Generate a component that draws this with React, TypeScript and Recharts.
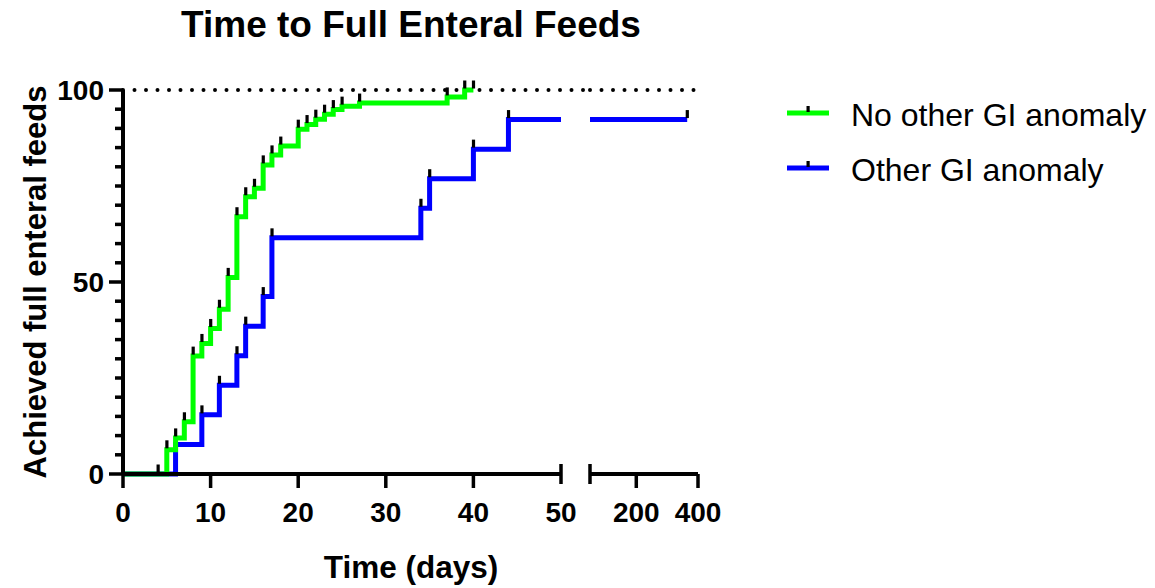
import React from 'react';
import {
  ComposedChart,
  Line,
  XAxis,
  YAxis,
  ReferenceLine,
  Legend
} from 'recharts';

// Kaplan-Meier style curves
const greenDays = [0, 4, 5, 6, 7, 8, 9, 10, 11, 12, 13, 14, 15, 16, 17, 18, 20, 21, 22, 23, 24, 25, 27, 37, 39, 40];
const greenPct = [0, 0, 6.3, 9.4, 13.6, 30.7, 34, 37.9, 42.9, 51.2, 67, 72.2, 74.4, 80.5, 83.1, 85.4, 89.8, 91, 92.4, 93.7, 94.9, 95.8, 96.6, 98.2, 100, 100];
const greenCensorDays = [4, 5, 6, 7, 8, 9, 10, 11, 12, 13, 14, 15, 16, 17, 18, 20, 21, 22, 23, 24, 25, 27, 37, 39, 40];

const blueDays = [0, 6, 9, 11, 13, 14, 16, 17, 34, 35, 40, 44, 50];
const bluePct = [0, 7.7, 15.4, 23.1, 30.8, 38.5, 46.2, 61.5, 69.2, 76.9, 84.6, 92.3, 92.3];
const blueLateDays = [50, 365];
const blueLatePct = [92.3, 92.3];
const blueCensorDays = [9, 11, 13, 14, 16, 17, 34, 35, 40, 44, 365];

const yTicks = [0, 5, 10, 15, 20, 25, 30, 35, 40, 45, 50, 55, 60, 65, 70, 75, 80, 85, 90, 95, 100];
const yLabelTicks = [0, 50, 100];
const xTicksEarly = [0, 10, 20, 30, 40, 50];
const xTicksLate = [50, 200, 400];

const GREEN = '#00ff00';
const BLUE = '#0000ff';
const FONT = "'Liberation Sans', Arial, Helvetica, sans-serif";
const TICK_FONT = 28;
const LINE_W = 5;

const seriesNames = ['No other GI anomaly', 'Other GI anomaly'];
const seriesColors = [GREEN, BLUE];

const build = (days: number[], pct: number[], censor: number[]) =>
  days.map((d, i) => ({ day: d, value: pct[i], censor: censor.includes(d) }));

const greenData = build(greenDays, greenPct, greenCensorDays);
const blueData = build(blueDays, bluePct, blueCensorDays);
const blueLateData = build(blueLateDays, blueLatePct, blueCensorDays);

const censorDot = (props: any) => {
  const { cx, cy, payload, index } = props;
  if (!payload || !payload.censor) return <g key={`n-${index}`} />;
  return <rect key={`c-${index}`} x={cx - 1.5} y={cy - 9.5} width={3.2} height={8} fill="#000" />;
};

const YTick = (props: any) => {
  const { x, y, payload } = props;
  const v = payload.value;
  const major = yLabelTicks.includes(v);
  return (
    <g>
      <line x1={x - (major ? 14 : 8)} x2={x} y1={y} y2={y} stroke="#000" strokeWidth={3.5} />
      {major && (
        <text x={x - 19} y={y + 10} textAnchor="end" fontSize={TICK_FONT} fontWeight="bold" fontFamily={FONT} fill="#000">
          {v}
        </text>
      )}
    </g>
  );
};

const makeXTick = (caps: number[], hideLabels: number[]) => (props: any) => {
  const { x, y, payload } = props;
  const v = payload.value;
  const cap = caps.includes(v);
  return (
    <g>
      {cap ? (
        <line x1={x} x2={x} y1={y - 10} y2={y + 10} stroke="#000" strokeWidth={3.5} />
      ) : (
        <line x1={x} x2={x} y1={y} y2={y + 14} stroke="#000" strokeWidth={3.5} />
      )}
      {!hideLabels.includes(v) && (
        <text x={x} y={y + 48} textAnchor="middle" fontSize={TICK_FONT} fontWeight="bold" fontFamily={FONT} fill="#000">
          {v}
        </text>
      )}
    </g>
  );
};

const renderLegend = () => (
  <div style={{ fontFamily: FONT, fontSize: 32, color: '#000' }}>
    {seriesNames.map((name, i) => (
      <div key={name} style={{ display: 'flex', alignItems: 'center', height: 55 }}>
        <svg width={44} height={20} style={{ display: 'block' }}>
          <line x1={1} x2={43} y1={7} y2={7} stroke={seriesColors[i]} strokeWidth={LINE_W} />
          <rect x={20.5} y={-1} width={3.2} height={7} fill="#000" />
        </svg>
        <span style={{ marginLeft: 21, whiteSpace: 'nowrap' }}>{name}</span>
      </div>
    ))}
  </div>
);

const axisLine = { stroke: '#000', strokeWidth: 4 };

export default function App() {
  return (
    <div style={{ position: 'absolute', left: 0, top: 0, width: 1155, height: 588, background: '#fff' }}>
      {/* first segment: 0-50 days, with y axis */}
      <div style={{ position: 'absolute', left: 0, top: 0 }}>
        <ComposedChart width={1155} height={588} margin={{ top: 90, right: 594, bottom: 54, left: 0 }}>
          <XAxis
            type="number"
            dataKey="day"
            domain={[0, 50]}
            ticks={xTicksEarly}
            interval={0}
            height={60}
            axisLine={axisLine}
            tickLine={false}
            tickSize={0}
            tickMargin={0}
            tick={makeXTick([50], [])}
          />
          <YAxis
            type="number"
            domain={[0, 100]}
            ticks={yTicks}
            interval={0}
            width={123}
            axisLine={axisLine}
            tickLine={false}
            tickSize={0}
            tickMargin={0}
            tick={<YTick />}
          />
          <ReferenceLine
            segment={[{ x: 0, y: 100 }, { x: 53.4, y: 100 }]}
            ifOverflow="visible"
            stroke="#000"
            strokeWidth={4}
            strokeLinecap="round"
            strokeDasharray="0 11.5"
          />
          <Line
            data={blueData}
            dataKey="value"
            type="stepAfter"
            stroke={BLUE}
            strokeWidth={LINE_W}
            dot={censorDot}
            activeDot={false}
            isAnimationActive={false}
          />
          <Line
            data={greenData}
            dataKey="value"
            type="stepAfter"
            stroke={GREEN}
            strokeWidth={LINE_W}
            dot={censorDot}
            activeDot={false}
            isAnimationActive={false}
          />
          <Legend
            layout="vertical"
            align="center"
            verticalAlign="middle"
            content={renderLegend}
            wrapperStyle={{ left: 786, top: 88, width: 369 }}
          />
        </ComposedChart>
      </div>

      {/* second segment: 50-400 days */}
      <div style={{ position: 'absolute', left: 0, top: 0 }}>
        <ComposedChart width={1155} height={588} margin={{ top: 90, right: 457, bottom: 54, left: 590 }}>
          <XAxis
            type="number"
            dataKey="day"
            domain={[50, 400]}
            ticks={xTicksLate}
            interval={0}
            height={60}
            axisLine={axisLine}
            tickLine={false}
            tickSize={0}
            tickMargin={0}
            tick={makeXTick([50], [50])}
          />
          <YAxis type="number" domain={[0, 100]} hide />
          <ReferenceLine
            segment={[{ x: 50, y: 100 }, { x: 400, y: 100 }]}
            ifOverflow="visible"
            stroke="#000"
            strokeWidth={4}
            strokeLinecap="round"
            strokeDasharray="0 11.5"
          />
          <Line
            data={blueLateData}
            dataKey="value"
            type="stepAfter"
            stroke={BLUE}
            strokeWidth={LINE_W}
            dot={censorDot}
            activeDot={false}
            isAnimationActive={false}
          />
        </ComposedChart>
      </div>

      {/* titles */}
      <svg width={1155} height={588} style={{ position: 'absolute', left: 0, top: 0, pointerEvents: 'none' }}>
        <text x={411} y={37} textAnchor="middle" fontSize={37} fontWeight="bold" fontFamily={FONT} fill="#000">
          Time to Full Enteral Feeds
        </text>
        <text x={411} y={578} textAnchor="middle" fontSize={31.5} fontWeight="bold" fontFamily={FONT} fill="#000">
          Time (days)
        </text>
        <text
          transform="translate(46,282) rotate(-90)"
          textAnchor="middle"
          fontSize={31}
          fontWeight="bold"
          fontFamily={FONT}
          fill="#000"
        >
          Achieved full enteral feeds
        </text>
      </svg>
    </div>
  );
}
